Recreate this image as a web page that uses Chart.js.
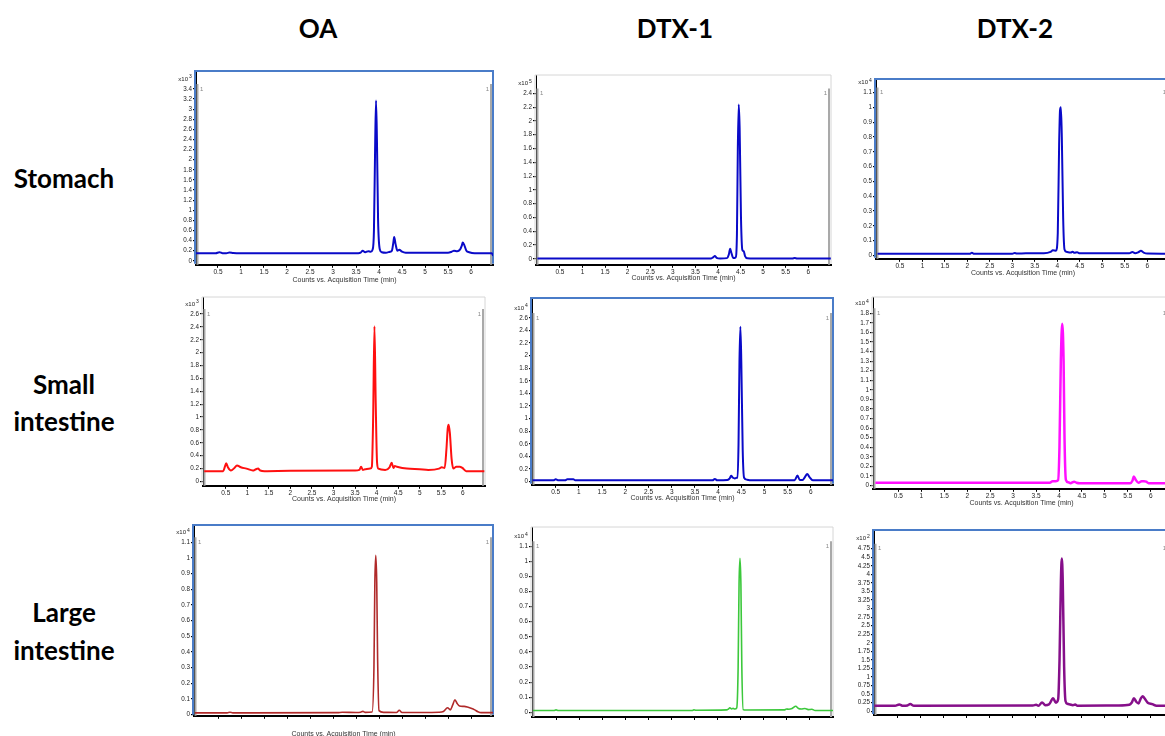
<!DOCTYPE html>
<html lang="en">
<head>
<meta charset="UTF-8" />
<title>Toxin chromatograms</title>
<script src="https://cdn.jsdelivr.net/npm/chart.js"></script>
<style>
  * { margin: 0; padding: 0; box-sizing: border-box; }
  body {
    width: 1165px;
    height: 736px;
    overflow: hidden;
    position: relative;
    background: #fff;
    font-family: 'Lato', 'Liberation Sans', sans-serif;
  }
  .lbl {
    position: absolute;
    transform: translate(-50%, -50%);
    font-weight: 700;
    font-size: 26px;
    color: #000;
    white-space: nowrap;
    text-align: center;
  }
  canvas { position: absolute; }
</style>
</head>
<body>

<div class="lbl" style="left:318px; top:28px;">OA</div>
<div class="lbl" style="left:675px; top:28px;">DTX-1</div>
<div class="lbl" style="left:1015px; top:28px;">DTX-2</div>
<div class="lbl" style="left:64px; top:178px;">Stomach</div>
<div class="lbl" style="left:64px; top:384px;">Small</div>
<div class="lbl" style="left:64px; top:421px;">intestine</div>
<div class="lbl" style="left:64px; top:612px;">Large</div>
<div class="lbl" style="left:64px; top:650px;">intestine</div>

<script>
// time axis (min), shared by every panel
const xTicks = [0.5, 1, 1.5, 2, 2.5, 3, 3.5, 4, 4.5, 5, 5.5, 6];
const xTitle = 'Counts vs. Acquisition Time (min)';

// --- stomach ---
const tOAStomach = [0, 0.45, 0.53, 0.6, 0.68, 0.75, 0.83, 1.0, 3.55, 3.6, 3.645, 3.7, 3.77, 3.82, 3.86, 3.89, 3.915, 3.935, 3.955, 3.98, 4.02, 4.06, 4.15, 4.24, 4.28, 4.31, 4.33, 4.36, 4.4, 4.44, 4.5, 4.58, 5.5, 5.58, 5.63, 5.7, 5.76, 5.8, 5.82, 5.85, 5.9, 5.96, 6.08, 6.45, 6.48];
const iOAStomach = [0.15, 0.15, 0.17, 0.15, 0.15, 0.165, 0.155, 0.15, 0.15, 0.16, 0.2, 0.17, 0.19, 0.18, 0.22, 0.6, 2.2, 3.17, 2.4, 0.8, 0.22, 0.17, 0.16, 0.18, 0.2, 0.35, 0.47, 0.33, 0.2, 0.22, 0.18, 0.16, 0.16, 0.18, 0.2, 0.19, 0.22, 0.3, 0.36, 0.32, 0.2, 0.17, 0.15, 0.15, 0.1];
const yTicksOAStomach = [0, 0.2, 0.4, 0.6, 0.8, 1, 1.2, 1.4, 1.6, 1.8, 2, 2.2, 2.4, 2.6, 2.8, 3, 3.2, 3.4];

const tDTX1Stomach = [0, 3.85, 3.9, 3.93, 3.97, 4.05, 4.2, 4.24, 4.27, 4.3, 4.34, 4.39, 4.42, 4.44, 4.46, 4.48, 4.51, 4.54, 4.57, 4.6, 4.65, 4.8, 5.65, 5.7, 5.75, 6.5];
const iDTX1Stomach = [0.005, 0.005, 0.025, 0.04, 0.015, 0.005, 0.01, 0.06, 0.145, 0.08, 0.01, 0.02, 0.35, 1.6, 2.24, 1.9, 0.6, 0.13, 0.11, 0.04, 0.008, 0.005, 0.005, 0.01, 0.005, 0.005];
const yTicksDTX1Stomach = [0, 0.2, 0.4, 0.6, 0.8, 1, 1.2, 1.4, 1.6, 1.8, 2, 2.2, 2.4];

const tDTX2Stomach = [0, 2.05, 2.1, 2.15, 3.0, 3.05, 3.1, 3.3, 3.7, 3.85, 3.9, 3.97, 4.01, 4.04, 4.06, 4.08, 4.1, 4.13, 4.16, 4.2, 4.3, 4.34, 4.38, 4.44, 4.5, 5.6, 5.67, 5.73, 5.8, 5.86, 5.92, 6.0, 6.5];
const iDTX2Stomach = [0.012, 0.012, 0.018, 0.012, 0.012, 0.017, 0.014, 0.015, 0.016, 0.025, 0.035, 0.033, 0.15, 0.75, 0.98, 1.0, 0.8, 0.25, 0.04, 0.025, 0.02, 0.026, 0.018, 0.022, 0.015, 0.015, 0.024, 0.016, 0.022, 0.032, 0.02, 0.013, 0.012];
const yTicksDTX2Stomach = [0, 0.1, 0.2, 0.3, 0.4, 0.5, 0.6, 0.7, 0.8, 0.9, 1, 1.1];

// --- small intestine ---
const tOASmall = [0, 0.44, 0.48, 0.51, 0.55, 0.62, 0.7, 0.76, 0.85, 0.98, 1.13, 1.2, 1.25, 1.3, 1.4, 2.0, 3.5, 3.6, 3.64, 3.68, 3.73, 3.85, 3.89, 3.92, 3.95, 3.98, 4.01, 4.04, 4.2, 4.3, 4.35, 4.39, 4.42, 4.47, 4.7, 5.0, 5.2, 5.45, 5.51, 5.58, 5.62, 5.65, 5.67, 5.7, 5.74, 5.78, 5.85, 5.93, 5.99, 6.08, 6.5];
const iOASmall = [0.16, 0.16, 0.23, 0.285, 0.22, 0.17, 0.21, 0.25, 0.22, 0.2, 0.17, 0.19, 0.2, 0.17, 0.16, 0.165, 0.17, 0.18, 0.23, 0.18, 0.19, 0.2, 0.23, 1.0, 2.41, 1.2, 0.3, 0.2, 0.18, 0.22, 0.29, 0.21, 0.24, 0.23, 0.2, 0.19, 0.18, 0.2, 0.22, 0.21, 0.5, 0.82, 0.88, 0.75, 0.35, 0.2, 0.23, 0.23, 0.21, 0.16, 0.16];
const yTicksOASmall = [0, 0.2, 0.4, 0.6, 0.8, 1, 1.2, 1.4, 1.6, 1.8, 2, 2.2, 2.4, 2.6];

const tDTX1Small = [0, 0.45, 0.5, 0.56, 0.7, 0.75, 0.88, 0.92, 3.88, 3.93, 3.98, 4.2, 4.25, 4.28, 4.32, 4.36, 4.4, 4.42, 4.44, 4.46, 4.48, 4.5, 4.53, 4.56, 4.62, 4.7, 5.65, 5.71, 5.76, 5.82, 5.87, 5.92, 5.97, 6.04, 6.48];
const iDTX1Small = [0.02, 0.02, 0.035, 0.02, 0.02, 0.035, 0.035, 0.02, 0.02, 0.04, 0.02, 0.025, 0.05, 0.09, 0.06, 0.05, 0.06, 0.06, 0.6, 1.9, 2.46, 1.9, 0.5, 0.06, 0.03, 0.02, 0.02, 0.095, 0.025, 0.025, 0.07, 0.12, 0.07, 0.02, 0.02];
const yTicksDTX1Small = [0, 0.2, 0.4, 0.6, 0.8, 1, 1.2, 1.4, 1.6, 1.8, 2, 2.2, 2.4, 2.6];

const tDTX2Small = [0, 3.8, 3.86, 3.93, 3.98, 4.01, 4.04, 4.07, 4.1, 4.12, 4.15, 4.2, 4.25, 4.33, 4.38, 4.45, 5.55, 5.6, 5.63, 5.67, 5.73, 5.8, 5.85, 5.9, 5.95, 6.42];
const iDTX2Small = [0.03, 0.03, 0.045, 0.045, 0.055, 0.4, 1.3, 1.69, 1.3, 0.5, 0.06, 0.035, 0.025, 0.04, 0.03, 0.025, 0.025, 0.05, 0.094, 0.06, 0.03, 0.045, 0.045, 0.04, 0.025, 0.025];
const yTicksDTX2Small = [0, 0.1, 0.2, 0.3, 0.4, 0.5, 0.6, 0.7, 0.8, 0.9, 1, 1.1, 1.2, 1.3, 1.4, 1.5, 1.6, 1.7, 1.8];

// --- large intestine ---
const tOALarge = [0, 0.7, 0.76, 0.82, 3.1, 3.2, 3.5, 3.6, 3.65, 3.7, 3.85, 3.89, 3.91, 3.93, 3.95, 3.97, 4.0, 4.1, 4.38, 4.44, 4.5, 5.3, 5.4, 5.49, 5.55, 5.6, 5.65, 5.7, 5.75, 5.85, 5.92, 6.0, 6.08, 6.15, 6.22, 6.49];
const iOALarge = [0.011, 0.011, 0.015, 0.011, 0.012, 0.015, 0.013, 0.015, 0.02, 0.014, 0.016, 0.3, 0.85, 1.017, 0.85, 0.35, 0.025, 0.014, 0.013, 0.027, 0.013, 0.015, 0.02, 0.043, 0.03, 0.06, 0.094, 0.07, 0.055, 0.052, 0.048, 0.04, 0.03, 0.018, 0.012, 0.012];
const yTicksOALarge = [0, 0.1, 0.2, 0.3, 0.4, 0.5, 0.6, 0.7, 0.8, 0.9, 1, 1.1];

const tDTX1Large = [0, 0.45, 0.5, 0.55, 3.45, 3.49, 3.53, 4.2, 4.24, 4.27, 4.31, 4.34, 4.38, 4.42, 4.45, 4.47, 4.49, 4.51, 4.53, 4.56, 4.62, 5.45, 5.5, 5.55, 5.62, 5.7, 5.76, 5.82, 5.9, 5.97, 6.05, 6.12, 6.51];
const iDTX1Large = [0.012, 0.012, 0.016, 0.012, 0.012, 0.016, 0.014, 0.016, 0.022, 0.03, 0.022, 0.026, 0.022, 0.03, 0.3, 0.85, 1.02, 0.85, 0.3, 0.018, 0.015, 0.016, 0.022, 0.02, 0.025, 0.04, 0.025, 0.022, 0.025, 0.018, 0.02, 0.012, 0.012];
const yTicksDTX1Large = [0, 0.1, 0.2, 0.3, 0.4, 0.5, 0.6, 0.7, 0.8, 0.9, 1, 1.1];

const tDTX2Large = [0, 0.45, 0.54, 0.62, 0.72, 0.78, 0.86, 3.45, 3.52, 3.57, 3.65, 3.72, 3.8, 3.89, 3.95, 4.0, 4.03, 4.06, 4.08, 4.1, 4.13, 4.16, 4.2, 4.26, 4.32, 4.37, 4.42, 5.3, 5.55, 5.6, 5.65, 5.7, 5.75, 5.8, 5.84, 5.88, 5.95, 6.05, 6.14, 6.43];
const iDTX2Large = [0.16, 0.16, 0.2, 0.16, 0.17, 0.21, 0.16, 0.17, 0.19, 0.16, 0.26, 0.18, 0.2, 0.38, 0.25, 0.35, 1.5, 3.8, 4.46, 3.8, 1.3, 0.3, 0.22, 0.2, 0.18, 0.2, 0.16, 0.17, 0.19, 0.25, 0.38, 0.28, 0.23, 0.38, 0.44, 0.38, 0.25, 0.21, 0.16, 0.16];
const yTicksDTX2Large = [0, 0.25, 0.5, 0.75, 1, 1.25, 1.5, 1.75, 2, 2.25, 2.5, 2.75, 3, 3.25, 3.5, 3.75, 4, 4.25, 4.5, 4.75];

// panel layout: plot rectangle on the page (l, t, r, b) and axis ranges
const panels = [
  { t: tOAStomach, v: iOAStomach, yt: yTicksOAStomach, exp: '3', color: '#0a0ac8', lw: 2, frame: 'blue',
    rect: [196, 71, 493, 265], x: [0.022, 6.478], y: [-0.079, 3.755], title: 15, xLabels: true },
  { t: tDTX1Stomach, v: iDTX1Stomach, yt: yTicksDTX1Stomach, exp: '5', color: '#0a0ac8', lw: 2, frame: 'gray',
    rect: [536, 75, 831, 265], x: [-0.031, 6.504], y: [-0.087, 2.667], title: 13, xLabels: true },
  { t: tDTX2Stomach, v: iDTX2Stomach, yt: yTicksDTX2Stomach, exp: '4', color: '#0a0ac8', lw: 2, frame: 'blue',
    rect: [876, 79, 1170, 259], x: [-0.033, 6.506], y: [-0.022, 1.191], title: 14, xLabels: true },
  { t: tOASmall, v: iOASmall, yt: yTicksOASmall, exp: '3', color: '#ff1010', lw: 2, frame: 'gray',
    rect: [203, 297, 485, 486], x: [-0.028, 6.515], y: [-0.067, 2.864], title: 13, xLabels: true },
  { t: tDTX1Small, v: iDTX1Small, yt: yTicksDTX1Small, exp: '4', color: '#0a0ac8', lw: 2, frame: 'blue',
    rect: [532, 298, 833, 485], x: [-0.011, 6.476], y: [-0.052, 2.916], title: 13, xLabels: true },
  { t: tDTX2Small, v: iDTX2Small, yt: yTicksDTX2Small, exp: '4', color: '#ff10ff', lw: 2.5, frame: 'gray',
    rect: [873, 297, 1170, 489], x: [-0.052, 6.418], y: [-0.034, 1.97], title: 14, xLabels: true },
  { t: tOALarge, v: iOALarge, yt: yTicksOALarge, exp: '4', color: '#b02a2a', lw: 1.6, frame: 'blue',
    rect: [194, 525, 493, 716], x: [-0.022, 6.478], y: [-0.008, 1.211], title: 18, xLabels: false },
  { t: tDTX1Large, v: iDTX1Large, yt: yTicksDTX1Large, exp: '4', color: '#3cc83c', lw: 1.6, frame: 'gray',
    rect: [532, 527, 833, 717], x: [-0.022, 6.508], y: [-0.031, 1.227], title: 0, xLabels: false },
  { t: tDTX2Large, v: iDTX2Large, yt: yTicksDTX2Large, exp: '2', color: '#860f8a', lw: 2.5, frame: 'blue',
    rect: [874, 530, 1170, 715], x: [-0.009, 6.435], y: [-0.108, 5.295], title: 0, xLabels: false }
];

const YW = 40, PADT = 14, PADR = 8;
const tickFont = { family: "'Liberation Sans', Arial, sans-serif", size: 6.3 };

// frame, range markers and the x10^n label drawn around the plot area
const decor = {
  id: 'decor',
  beforeDatasetsDraw(chart, args, o) {
    const { ctx, chartArea: a } = chart;
    const topY = chart.scales.y.getPixelForValue(o.topTick);
    ctx.save();
    ctx.strokeStyle = '#a9a9a9';
    ctx.lineWidth = 2;
    ctx.beginPath();
    ctx.moveTo(a.left + 1.5, topY - 5); ctx.lineTo(a.left + 1.5, a.bottom);
    ctx.moveTo(a.right - 2, topY - 5); ctx.lineTo(a.right - 2, a.bottom);
    ctx.stroke();

    if (o.frame === 'blue') { ctx.strokeStyle = '#4a7cc8'; ctx.lineWidth = 2; }
    else { ctx.strokeStyle = '#d6d6d6'; ctx.lineWidth = 1; }
    ctx.beginPath();
    ctx.moveTo(a.left - 1, a.bottom - 1);
    ctx.lineTo(a.left - 1, a.top);
    ctx.lineTo(a.right, a.top);
    ctx.lineTo(a.right, a.bottom - 1);
    ctx.stroke();

    ctx.fillStyle = '#888';
    ctx.font = "6px 'Liberation Sans', sans-serif";
    ctx.textBaseline = 'middle';
    ctx.textAlign = 'left';
    ctx.fillText('1', a.left + 4, topY);
    ctx.textAlign = 'right';
    ctx.fillText('1', a.right - 4, topY);

    ctx.fillStyle = '#222';
    ctx.fillText('x10', a.left - 8, topY - 10);
    ctx.font = "5px 'Liberation Sans', sans-serif";
    ctx.textAlign = 'left';
    ctx.fillText(o.exp, a.left - 7, topY - 12);
    ctx.restore();
  }
};

panels.forEach(p => {
  const [l, t, r, b] = p.rect;
  const xh = p.title ? p.title + 4.2 : 12;
  const w = (r - l) + YW + PADR;
  const h = (b - t) + PADT + xh;
  const cv = document.createElement('canvas');
  cv.width = w;
  cv.height = h;
  cv.style.left = (l - YW) + 'px';
  cv.style.top = (t - PADT) + 'px';
  cv.style.width = w + 'px';
  cv.style.height = h + 'px';
  document.body.appendChild(cv);

  new Chart(cv, {
    type: 'line',
    data: {
      datasets: [{
        data: p.t.map((x, i) => ({ x: x, y: p.v[i] })),
        borderColor: p.color,
        borderWidth: p.lw,
        pointRadius: 0,
        cubicInterpolationMode: 'monotone',
        fill: false
      }]
    },
    options: {
      responsive: false,
      animation: false,
      devicePixelRatio: 1,
      layout: { padding: { left: 0, top: PADT, right: PADR, bottom: 0 } },
      plugins: {
        legend: { display: false },
        tooltip: { enabled: false },
        decor: { frame: p.frame, exp: p.exp, topTick: p.yt[p.yt.length - 1] }
      },
      scales: {
        x: {
          type: 'linear',
          min: p.x[0],
          max: p.x[1],
          afterBuildTicks: s => { s.ticks = xTicks.map(v => ({ value: v })); },
          afterFit: s => { s.height = xh; },
          ticks: {
            autoSkip: false,
            maxRotation: 0,
            padding: 1,
            font: { family: tickFont.family, size: 6.5 },
            color: p.xLabels ? '#222' : 'rgba(0,0,0,0)',
            callback: v => String(v)
          },
          grid: { drawOnChartArea: false, tickLength: 3, color: '#000', lineWidth: 1 },
          border: { color: '#000', width: 2 },
          title: {
            display: p.title > 0,
            text: xTitle,
            padding: 0,
            color: '#333',
            font: { family: tickFont.family, size: 7 }
          }
        },
        y: {
          type: 'linear',
          min: p.y[0],
          max: p.y[1],
          afterBuildTicks: s => { s.ticks = p.yt.map(v => ({ value: v })); },
          afterFit: s => { s.width = YW; },
          ticks: {
            autoSkip: false,
            padding: 1,
            font: tickFont,
            color: '#222',
            callback: v => String(v)
          },
          grid: { drawOnChartArea: false, tickLength: 3, color: '#000', lineWidth: 1.2 },
          border: { color: '#000', width: 1 }
        }
      }
    },
    plugins: [decor]
  });
});
</script>
</body>
</html>
